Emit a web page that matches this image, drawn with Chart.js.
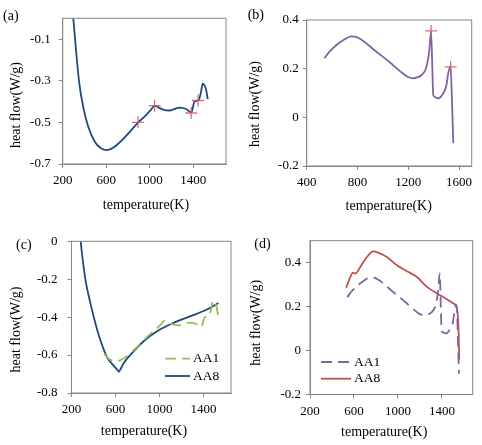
<!DOCTYPE html>
<html>
<head>
<meta charset="utf-8">
<script src="https://cdn.jsdelivr.net/npm/chart.js@4.4.1/dist/chart.umd.min.js"></script>
<style>
  html, body { margin: 0; padding: 0; background: #fff; }
  body { width: 482px; height: 445px; position: relative; overflow: hidden; }
  .panel { position: absolute; }
</style>
</head>
<body>
<div class="panel" style="left:0;top:0;width:241px;height:222px"><canvas id="chartA"></canvas></div>
<div class="panel" style="left:241px;top:0;width:241px;height:222px"><canvas id="chartB"></canvas></div>
<div class="panel" style="left:0;top:222px;width:241px;height:223px"><canvas id="chartC"></canvas></div>
<div class="panel" style="left:241px;top:222px;width:241px;height:223px"><canvas id="chartD"></canvas></div>
<script>
// AA1, low range (panels a and c)
const tempAA1 = [288, 297, 322, 352, 388, 434, 495, 545, 596, 645, 694, 786, 892, 960, 1010, 1044, 1080, 1130, 1182, 1230, 1273, 1334, 1380, 1395, 1410, 1441, 1456, 1472, 1486, 1500, 1518, 1532];
const flowAA1 = [0.04, 0, -0.151, -0.311, -0.424, -0.52, -0.593, -0.622, -0.633, -0.627, -0.61, -0.563, -0.501, -0.468, -0.44, -0.42, -0.428, -0.44, -0.443, -0.435, -0.429, -0.436, -0.453, -0.43, -0.4, -0.396, -0.385, -0.35, -0.314, -0.32, -0.345, -0.388];
const peakTempA = [892, 1044, 1380, 1443];
const peakFlowA = [-0.5, -0.42, -0.455, -0.395];

// AA8, low range (panel c)
const tempAA8c = [280, 284, 300, 329, 375, 420, 465, 526, 586, 620, 632, 645, 677, 767, 858, 978, 1129, 1280, 1431, 1536];
const flowAA8c = [0.03, 0, -0.088, -0.21, -0.334, -0.439, -0.526, -0.614, -0.658, -0.68, -0.688, -0.675, -0.64, -0.579, -0.526, -0.474, -0.43, -0.395, -0.36, -0.325];

// AA1, high range (panels b and d)
const tempAA1h = [539, 580, 630, 690, 750, 790, 840, 932, 1064, 1135, 1195, 1239, 1274, 1305, 1339, 1365, 1380, 1390, 1397, 1415, 1436, 1476, 1500, 1515, 1534, 1545, 1555];
const flowAA1h = [0.243, 0.27, 0.295, 0.318, 0.333, 0.331, 0.316, 0.277, 0.222, 0.19, 0.167, 0.16, 0.165, 0.174, 0.2, 0.27, 0.352, 0.2, 0.092, 0.082, 0.078, 0.099, 0.13, 0.181, 0.208, 0.06, -0.106];
const peakTempB = [1380, 1534];
const peakFlowB = [0.355, 0.207];

// AA8, high range (panel d)
const tempAA8d = [530, 561, 591, 612, 657, 718, 773, 824, 900, 991, 1082, 1173, 1264, 1355, 1445, 1506, 1536, 1552, 1557];
const flowAA8d = [0.286, 0.328, 0.355, 0.35, 0.38, 0.426, 0.451, 0.445, 0.426, 0.388, 0.361, 0.335, 0.29, 0.26, 0.234, 0.214, 0.192, 0.086, -0.042];

// tick labels
const xTicksA = [200, 600, 1000, 1400];
const yTicksA = [-0.7, -0.5, -0.3, -0.1];
const xTicksB = [400, 800, 1200, 1600];
const yTicksB = [-0.2, 0, 0.2, 0.4];
const xTicksC = [200, 600, 1000, 1400];
const yTicksC = [-0.8, -0.6, -0.4, -0.2, 0];
const xTicksD = [200, 600, 1000, 1400];
const yTicksD = [-0.2, 0, 0.2, 0.4];

const serif = "'Liberation Serif', 'Times New Roman', serif";
Chart.defaults.font.family = serif;
Chart.defaults.color = '#000';
Chart.defaults.animation = false;

function points(xs, ys) {
  return xs.map((x, i) => ({ x: x, y: ys[i] }));
}

// box around the plot area
const framePlugin = {
  id: 'frame',
  afterDraw(chart) {
    const a = chart.chartArea, ctx = chart.ctx;
    ctx.save();
    ctx.strokeStyle = '#868686';
    ctx.lineWidth = 1;
    ctx.strokeRect(a.left, a.top, a.right - a.left, a.bottom - a.top);
    ctx.restore();
  }
};

// panel letter and axis titles
const textPlugin = {
  id: 'panelText',
  afterDraw(chart, args, opts) {
    const ctx = chart.ctx;
    (opts.items || []).forEach(it => {
      ctx.save();
      ctx.fillStyle = '#000';
      ctx.font = (it.size || 14) + 'px ' + serif;
      ctx.textAlign = it.align || 'center';
      ctx.textBaseline = 'middle';
      ctx.translate(it.x, it.y);
      if (it.rot) ctx.rotate(it.rot);
      ctx.fillText(it.text, 0, 0);
      ctx.restore();
    });
  }
};

// legend drawn inside the plot area
const legendPlugin = {
  id: 'insideLegend',
  afterDraw(chart, args, opts) {
    if (!opts.entries) return;
    const ctx = chart.ctx;
    opts.entries.forEach((idx, row) => {
      const ds = chart.data.datasets[idx];
      const y = opts.y + row * opts.rowGap;
      ctx.save();
      ctx.strokeStyle = ds.borderColor;
      ctx.lineWidth = ds.borderWidth;
      ctx.setLineDash(ds.borderDash || []);
      ctx.beginPath();
      ctx.moveTo(opts.x, y);
      ctx.lineTo(opts.x + opts.len, y);
      ctx.stroke();
      ctx.setLineDash([]);
      ctx.fillStyle = '#000';
      ctx.font = '13.5px ' + serif;
      ctx.textAlign = 'left';
      ctx.textBaseline = 'middle';
      ctx.fillText(ds.label, opts.x + opts.len + 3, y);
      ctx.restore();
    });
  }
};

function curve(label, xs, ys, color, dash) {
  return {
    label: label,
    data: points(xs, ys),
    showLine: true,
    borderColor: color,
    borderWidth: 1.8,
    borderDash: dash || [],
    pointRadius: 0,
    cubicInterpolationMode: 'monotone',
    order: 2
  };
}

function peaks(xs, ys) {
  return {
    label: 'peaks',
    data: points(xs, ys),
    showLine: false,
    pointStyle: 'cross',
    pointRadius: 6,
    pointBorderColor: 'rgba(200,90,90,0.85)',
    pointBorderWidth: 1.3,
    order: 1
  };
}

function makeChart(id, p) {
  return new Chart(document.getElementById(id), {
    type: 'scatter',
    data: { datasets: p.datasets },
    options: {
      responsive: true,
      maintainAspectRatio: false,
      layout: { padding: { left: 0, top: p.area.top, right: p.area.right, bottom: 0 } },
      scales: {
        x: {
          type: 'linear',
          min: p.xMin, max: p.xMax,
          afterBuildTicks: s => { s.ticks = p.xTicks.map(v => ({ value: v })); },
          afterFit: s => { s.height = p.area.bottom; },
          grid: { drawOnChartArea: false, tickLength: 4, color: '#868686' },
          border: { color: '#868686' },
          ticks: { font: { size: 13 }, padding: 5, maxRotation: 0, autoSkip: false, callback: v => String(v) }
        },
        y: {
          type: 'linear',
          min: p.yMin, max: p.yMax,
          afterBuildTicks: s => { s.ticks = p.yTicks.map(v => ({ value: v })); },
          afterFit: s => { s.width = p.area.left; },
          grid: { drawOnChartArea: false, tickLength: 4, color: '#868686' },
          border: { color: '#868686' },
          ticks: { font: { size: 13 }, padding: p.yPad, autoSkip: false, callback: v => String(v) }
        }
      },
      plugins: {
        legend: { display: false },
        tooltip: { enabled: false },
        panelText: { items: p.texts },
        insideLegend: p.legend || {}
      }
    },
    plugins: [framePlugin, textPlugin, legendPlugin]
  });
}

const up = -Math.PI / 2;

makeChart('chartA', {
  datasets: [peaks(peakTempA, peakFlowA), curve('AA1', tempAA1, flowAA1, '#1f497d')],
  xMin: 200, xMax: 1700, xTicks: xTicksA,
  yMin: -0.7, yMax: 0, yTicks: yTicksA,
  area: { left: 62.7, top: 18.3, right: 15, bottom: 58 },
  yPad: 8,
  texts: [
    { text: '(a)', x: 3, y: 16.5, align: 'left' },
    { text: 'temperature(K)', x: 146, y: 205.5 },
    { text: 'heat flow(W/g)', x: 16.5, y: 105, rot: up }
  ]
});

makeChart('chartB', {
  datasets: [peaks(peakTempB, peakFlowB), curve('AA1', tempAA1h, flowAA1h, '#8064a2')],
  xMin: 400, xMax: 1700, xTicks: xTicksB,
  yMin: -0.2, yMax: 0.4, yTicks: yTicksB,
  area: { left: 65.7, top: 20, right: 10.3, bottom: 56 },
  yPad: 4,
  texts: [
    { text: '(b)', x: 6.7, y: 15.5, align: 'left' },
    { text: 'temperature(K)', x: 147.7, y: 206.5 },
    { text: 'heat flow(W/g)', x: 14, y: 104, rot: up }
  ]
});

makeChart('chartC', {
  datasets: [
    curve('AA1', tempAA1.filter(t => t >= 495), flowAA1.filter((v, i) => tempAA1[i] >= 495), '#9bbb59', [11, 6]),
    curve('AA8', tempAA8c, flowAA8c, '#1f497d')
  ],
  xMin: 200, xMax: 1650, xTicks: xTicksC,
  yMin: -0.8, yMax: 0, yTicks: yTicksC,
  area: { left: 71.5, top: 19.3, right: 10, bottom: 52 },
  yPad: 10,
  texts: [
    { text: '(c)', x: 16, y: 23.3, align: 'left' },
    { text: 'temperature(K)', x: 144, y: 209.7 },
    { text: 'heat flow(W/g)', x: 16.7, y: 107.5, rot: up }
  ],
  legend: { entries: [0, 1], x: 165, y: 136.7, rowGap: 17.3, len: 25 }
});

makeChart('chartD', {
  datasets: [
    curve('AA1', tempAA1h, flowAA1h, '#8064a2', [11, 6]),
    curve('AA8', tempAA8d, flowAA8d, '#c0504d')
  ],
  xMin: 200, xMax: 1680, xTicks: xTicksD,
  yMin: -0.2, yMax: 0.5, yTicks: yTicksD,
  area: { left: 69, top: 18.7, right: 9.3, bottom: 50.5 },
  yPad: 5,
  texts: [
    { text: '(d)', x: 13.3, y: 22.7, align: 'left' },
    { text: 'temperature(K)', x: 143.2, y: 210 },
    { text: 'heat flow(W/g)', x: 15, y: 100.8, rot: up }
  ],
  legend: { entries: [0, 1], x: 80, y: 140, rowGap: 16.7, len: 30 }
});
</script>
</body>
</html>
